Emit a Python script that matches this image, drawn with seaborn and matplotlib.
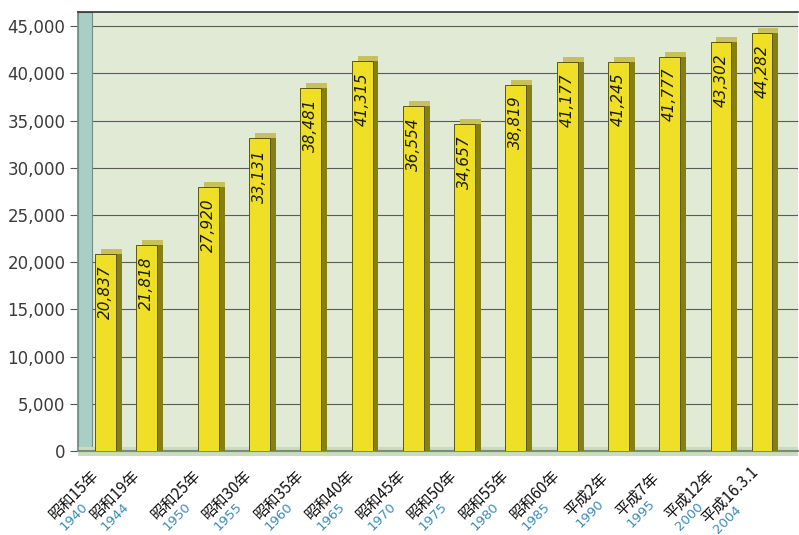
import matplotlib
matplotlib.use('Agg')
import matplotlib.pyplot as plt
import matplotlib.patheffects as pe
from matplotlib.patches import Rectangle
from matplotlib.font_manager import FontProperties
import numpy as np
import pandas as pd
import seaborn as sns

# values
YEARS = [1940, 1944, 1950, 1955, 1960, 1965, 1970, 1975, 1980, 1985, 1990, 1995, 2000, 2004]
ERAS = ['昭和15年', '昭和19年', '昭和25年', '昭和30年', '昭和35年', '昭和40年', '昭和45年',
        '昭和50年', '昭和55年', '昭和60年', '平成2年', '平成7年', '平成12年', '平成16.3.1']
COUNTS = [20837, 21818, 27920, 33131, 38481, 41315, 36554, 34657, 38819, 41177, 41245,
          41777, 43302, 44282]
Y_TICKS = [0, 5000, 10000, 15000, 20000, 25000, 30000, 35000, 40000, 45000]

FACE = '#efe027'
SIDE = '#857f14'
TOP = '#c8c05a'
EDGE = '#5b570c'
YEAR_COLOR = '#3b8cb6'

sns.set_theme(style='white')
plt.rcParams['font.family'] = ['Noto Sans CJK JP', 'DejaVu Sans']

df = pd.DataFrame({'year': YEARS, 'count': COUNTS, 'era': ERAS})

fig = plt.figure(figsize=(7.99, 5.35), dpi=100)
ax = fig.add_axes([0.0976, 0.157, 0.901, 0.8206])
ax.set_facecolor('#e0ead4')

sns.barplot(df, x='year', y='count', native_scale=True, width=0.51, color=FACE,
            saturation=1, edgecolor=EDGE, linewidth=0.7, errorbar=None, ax=ax, zorder=3)

# fake 3D: top face + side face drawn as shifted shadows
for p in ax.patches:
    p.set_path_effects([
        pe.SimplePatchShadow(offset=(4.3, 3.6), shadow_rgbFace=TOP, alpha=1),
        pe.SimplePatchShadow(offset=(4.3, 0), shadow_rgbFace=SIDE, alpha=1),
        pe.Normal(),
    ])

ax.set_xlim(1937.3, 2007.5)
ax.set_ylim(0, 46500)
ax.set_yticks(Y_TICKS)
ax.set_yticklabels([f'{v:,}' for v in Y_TICKS], family='DejaVu Sans', fontsize=12, color='#3a3a3a')
ax.set_xticks(YEARS)
ax.tick_params(axis='x', labelbottom=False, length=0)
ax.tick_params(axis='y', left=True, length=6, width=0.8, color='#555555', pad=3)
ax.yaxis.grid(True, color='#5a5a5a', lw=0.8)
ax.set_axisbelow(True)
ax.set_xlabel('')
ax.set_ylabel('')

ax.spines['right'].set_visible(False)
ax.spines['top'].set_color('#333333')
ax.spines['top'].set_linewidth(1.2)
ax.spines['left'].set_color('#6f8f88')
ax.spines['bottom'].set_color('#7d8c7a')
ax.spines['bottom'].set_linewidth(1.5)

# left wall and floor
ax.add_patch(Rectangle((0, 0), 0.02, 1, transform=ax.transAxes, fc='#a9cfc5',
                       ec='#6f8f88', lw=0.8, zorder=1))
ax.add_patch(Rectangle((0, -0.012), 1, 0.02, transform=ax.transAxes, fc='#c9dcc0',
                       ec='none', clip_on=False, zorder=2))

# value labels inside the bars
for yr, c in zip(YEARS, COUNTS):
    ax.annotate(f'{c:,}', xy=(yr, c), xytext=(0, -8), textcoords='offset points',
                rotation=90, ha='center', va='top', fontsize=11, style='italic',
                family='DejaVu Sans', color='#1a1a1a', zorder=5)

# two-line rotated category labels (era in black, year in blue)
fig.canvas.draw()
r = fig.canvas.get_renderer()
era_prop = FontProperties(family=['Noto Sans CJK JP', 'DejaVu Sans'], size=11)
year_prop = FontProperties(family='DejaVu Sans', size=9.5)
u = np.array([np.cos(np.pi / 4), np.sin(np.pi / 4)])
n = np.array([np.cos(np.pi / 4), -np.sin(np.pi / 4)])
for yr, era in zip(YEARS, ERAS):
    era_w = r.get_text_width_height_descent(era, era_prop, ismath=False)[0]
    year_w = r.get_text_width_height_descent(str(yr), year_prop, ismath=False)[0]
    c_era = np.array([-32.0, -44.0])
    c_year = c_era + 15.5 * n - (era_w - year_w) / 2 * u
    ax.annotate(era, xy=(yr, 0), xycoords=('data', 'axes fraction'), xytext=c_era,
                textcoords='offset pixels', rotation=45, rotation_mode='anchor',
                ha='center', va='center', fontproperties=era_prop, color='#111111',
                annotation_clip=False)
    ax.annotate(str(yr), xy=(yr, 0), xycoords=('data', 'axes fraction'), xytext=c_year,
                textcoords='offset pixels', rotation=45, rotation_mode='anchor',
                ha='center', va='center', fontproperties=year_prop, color=YEAR_COLOR,
                annotation_clip=False)

fig.savefig('out.png', dpi=100, facecolor='white')
